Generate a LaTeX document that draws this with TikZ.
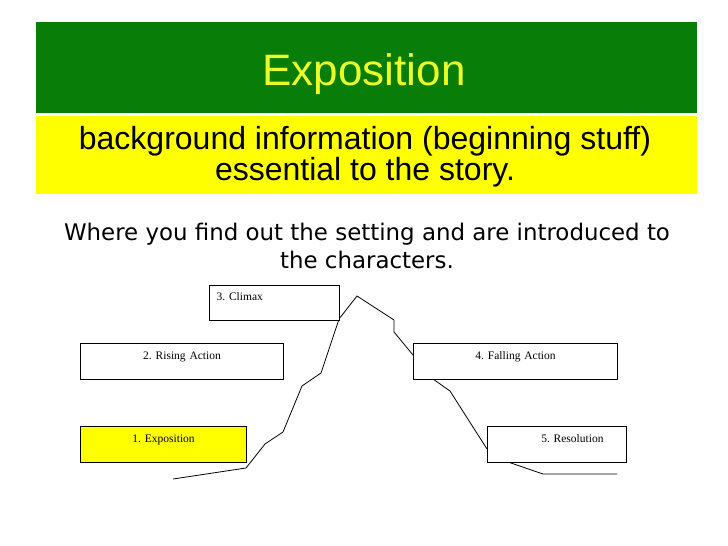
\documentclass[tikz,border=0pt]{standalone}
\usepackage{fontspec}
\usepackage{tikz}
\usetikzlibrary{positioning}
\newfontfamily\headfont{Liberation Sans}
\newfontfamily\notefont{DejaVu Sans}
\newfontfamily\stagefont{Liberation Serif}
\definecolor{titlegreen}{RGB}{8,125,8}
\definecolor{bandyellow}{RGB}{255,255,0}
\definecolor{titleyellow}{RGB}{235,255,40}
\frenchspacing
\tikzstyle{bar} = [inner sep=0pt,minimum width=661pt,anchor=north west]
\tikzstyle{stage} = [draw,line width=1.1pt,fill=white,inner ysep=0pt,inner xsep=0pt,anchor=north west,text height=16pt,text depth=20pt,font=\stagefont\fontsize{11.5}{12}\selectfont]
\tikzstyle{plotline} = [line width=0.8pt,line join=miter]

\begin{document}
\begin{tikzpicture}[x=1pt,y=-1pt]
  \useasboundingbox (0,0) rectangle (728,546);
  % title and bands
  \node (titlebar)[bar,fill=titlegreen,minimum height=90.5pt] at (36,22) {};
  \node (title)[anchor=base,text=titleyellow,font=\headfont\fontsize{44}{44}\selectfont] at (364,85.7) {Exposition};
  \node (band)[bar,fill=bandyellow,minimum height=78pt] at (36,116) {};
  \node (bginfo)[anchor=base,align=center,inner sep=0pt,font=\headfont\fontsize{32}{29}\selectfont] at (365,180.7) {background information (beginning stuff)\\essential to the story.};
  \node (note)[anchor=base,align=center,inner sep=0pt,font=\notefont\fontsize{22.9}{28}\selectfont] at (367,268) {Where you find out the setting and are introduced to\\the characters.};

  % plot line
  \draw[plotline] (173,479) -- (246,468) -- (265,444) -- (283,432) -- (302,386) -- (321,373)
    -- (339,319) -- (357,296) -- (394,320) -- (394,332) -- (413,355) -- (433,379)
    -- (450,391) -- (487,449) -- (508,462) -- (543,474) -- (617,474);

  % stages
  \node (climax)[stage,text height=15pt,inner xsep=7pt,text width=116pt,align=left] at (209,285) {3. Climax};
  \node (rising)[stage,text width=203pt,align=center] at (80,343) {2. Rising Action};
  \node (falling)[stage,text width=204pt,align=center] at (413,343) {4. Falling Action};
  \node (expo)[stage,fill=bandyellow,text width=166pt,align=center] at (80,426) {1. Exposition};
  \node (resolution)[stage,inner xsep=23pt,text width=93pt,align=right] at (487,426) {5. Resolution};
\end{tikzpicture}
\end{document}
